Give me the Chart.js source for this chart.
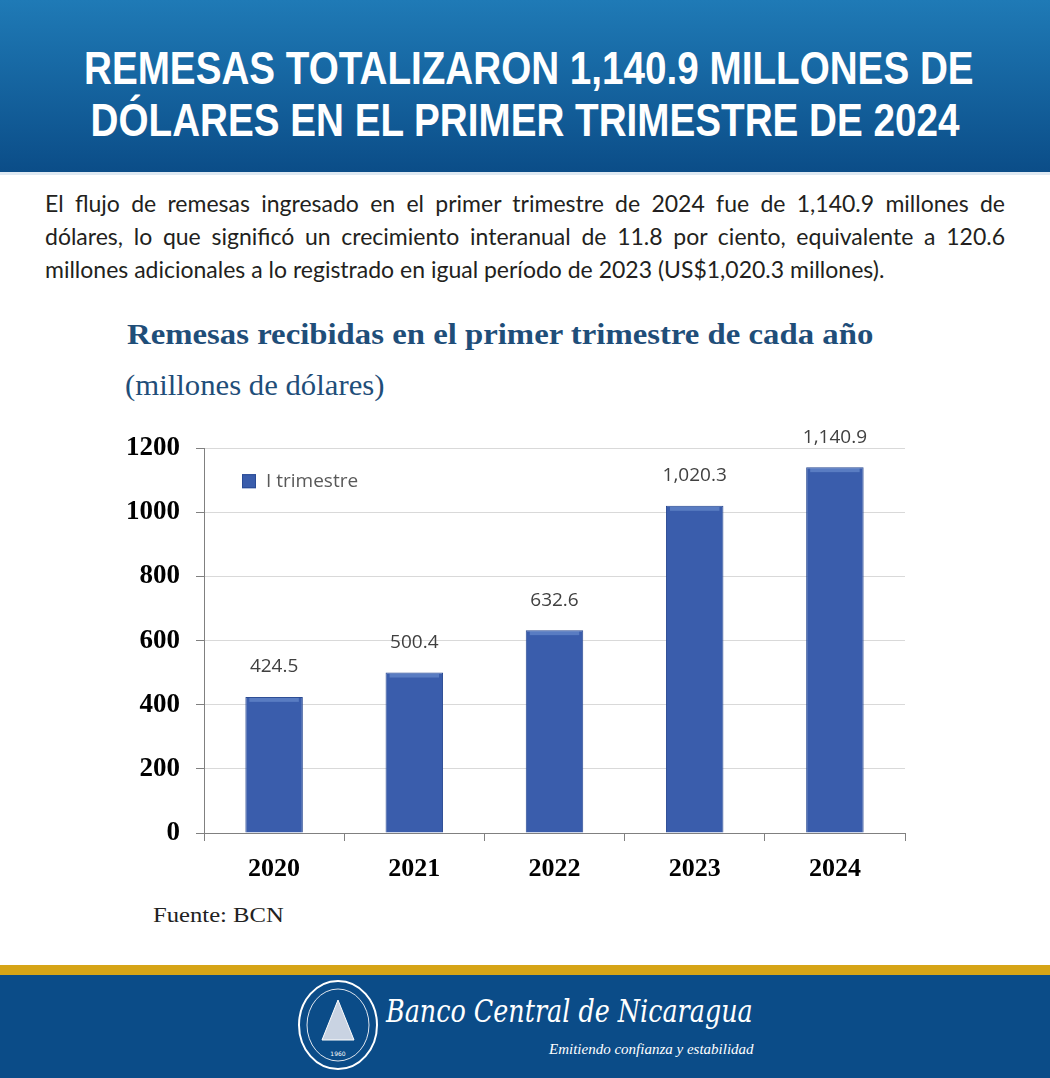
<!DOCTYPE html>
<html lang="es">
<head>
<meta charset="utf-8">
<title>Remesas primer trimestre</title>
<script src="https://cdn.jsdelivr.net/npm/chart.js@4.4.1/dist/chart.umd.min.js"></script>
<style>
    html, body { margin: 0; padding: 0; }
    body { width: 1050px; height: 1078px; position: relative; background: #fff; overflow: hidden; }
    .header {
        position: absolute; left: 0; top: 0; width: 1050px; height: 172px;
        background: linear-gradient(#1f7ab6, #0b4d88);
        border-bottom: 3px solid #dfe9f2;
        color: #fff; text-align: center;
        font-family: "Liberation Sans", sans-serif;
        font-weight: bold; font-size: 46px; line-height: 52px;
    }
    .header div {
        position: absolute; left: 0; width: 1050px; white-space: nowrap;
        transform: scaleX(0.84); transform-origin: 525px 0;
    }
    .intro {
        position: absolute; left: 45px; top: 187px; width: 960px;
        font-family: "Lato", "Open Sans", sans-serif; font-size: 23px; line-height: 33px;
        color: #231f20;
    }
    .intro .j { text-align: justify; text-align-last: justify; white-space: nowrap; }
    .ctitle {
        position: absolute; left: 127px; top: 318px; transform: scaleX(1.13); transform-origin: 0 0;
        font-family: "Liberation Serif", serif; font-weight: bold; font-size: 29px; color: #1f4e79;
        white-space: nowrap;
    }
    .csub {
        position: absolute; left: 125px; top: 369px; transform: scaleX(1.06); transform-origin: 0 0;
        font-family: "Liberation Serif", serif; font-size: 29px; color: #1f4e79; white-space: nowrap;
    }
    .chart-wrap { position: absolute; left: 100px; top: 416px; width: 830px; height: 474px; }
    .fuente {
        position: absolute; left: 153px; top: 902px; transform: scaleX(1.12); transform-origin: 0 0;
        font-family: "Liberation Serif", serif; font-size: 22px; color: #222; white-space: nowrap;
    }
    .gold { position: absolute; left: 0; top: 965px; width: 1050px; height: 10px; background: #d6a416; }
    .footer { position: absolute; left: 0; top: 975px; width: 1050px; height: 103px; background: #0b4c88; }
    .seal { position: absolute; left: 296px; top: 3px; }
    .bank {
        position: absolute; left: 386px; top: 18px; color: #fff; white-space: nowrap;
        font-family: "DejaVu Serif", serif; font-style: italic; font-size: 31px;
        transform: scaleX(0.82); transform-origin: 0 0;
    }
    .motto {
        position: absolute; left: 549px; top: 66px; color: #fff; white-space: nowrap;
        font-family: "Liberation Serif", serif; font-style: italic; font-size: 15px;
    }
</style>
</head>
<body>
<div class="header">
    <div style="top:42px">REMESAS TOTALIZARON 1,140.9 MILLONES DE</div>
    <div style="top:94px">DÓLARES EN EL PRIMER TRIMESTRE DE 2024</div>
</div>
<div class="intro">
    <div class="j">El flujo de remesas ingresado en el primer trimestre de 2024 fue de 1,140.9 millones de</div>
    <div class="j">dólares, lo que significó un crecimiento interanual de 11.8 por ciento, equivalente a 120.6</div>
    <div>millones adicionales a lo registrado en igual período de 2023 (US$1,020.3 millones).</div>
</div>
<div class="ctitle">Remesas recibidas en el primer trimestre de cada año</div>
<div class="csub">(millones de dólares)</div>
<div class="chart-wrap"><canvas id="remesasChart" width="830" height="474"></canvas></div>
<div class="fuente">Fuente: BCN</div>
<div class="gold"></div>
<div class="footer">
    <svg class="seal" width="84" height="94" viewBox="0 0 84 94">
        <ellipse cx="42" cy="47" rx="39" ry="44" fill="none" stroke="#fff" stroke-width="2"/>
        <ellipse cx="42" cy="47" rx="31" ry="36" fill="none" stroke="#dfe6ef" stroke-width="1"/>
        <polygon points="42,22 58,62 26,62" fill="#c9d3e2" stroke="#fff"/>
        <text x="42" y="78" fill="#fff" font-size="6" text-anchor="middle" font-family="DejaVu Sans">1960</text>
    </svg>
    <div class="bank">Banco Central de Nicaragua</div>
    <div class="motto">Emitiendo confianza y estabilidad</div>
</div>

<script>
(function () {
    'use strict';

    const years = ['2020', '2021', '2022', '2023', '2024'];
    const remesas = [424.5, 500.4, 632.6, 1020.3, 1140.9];
    const valueLabels = ['424.5', '500.4', '632.6', '1,020.3', '1,140.9'];
    const yTicks = [0, 200, 400, 600, 800, 1000, 1200];
    const seriesName = 'I trimestre';

    const baseBlue = '#3a5dac';

    function barFill(context) {
        const chart = context.chart;
        const el = context.element;
        if (!el || !chart.chartArea || !Number.isFinite(el.x) || !Number.isFinite(el.width)) {
            return baseBlue;
        }
        const half = el.width / 2;
        const g = chart.ctx.createLinearGradient(el.x - half, 0, el.x + half, 0);
        g.addColorStop(0, '#2a4b96');
        g.addColorStop(0.12, '#3a5eae');
        g.addColorStop(0.88, '#3a5eae');
        g.addColorStop(1, '#2a4b96');
        return g;
    }

    const valueLabelPlugin = {
        id: 'valueLabels',
        afterDatasetsDraw: function (chart) {
            const ctx = chart.ctx;
            const meta = chart.getDatasetMeta(0);
            ctx.save();
            ctx.font = '19px "Open Sans", sans-serif';
            ctx.textAlign = 'center';
            ctx.textBaseline = 'middle';
            meta.data.forEach(function (bar, i) {
                // soft bevel at the top of each bar
                ctx.fillStyle = 'rgba(120, 155, 215, 0.5)';
                ctx.fillRect(bar.x - bar.width / 2 + 4, bar.y + 1, bar.width - 8, 4);
                ctx.fillStyle = '#404040';
                ctx.fillText(valueLabels[i], bar.x, bar.y - 30);
            });
            ctx.restore();
        }
    };

    const legendPlugin = {
        id: 'innerLegend',
        afterDraw: function (chart) {
            const ctx = chart.ctx;
            const area = chart.chartArea;
            const x = area.left + 38;
            const y = area.top + 33;
            ctx.save();
            ctx.fillStyle = baseBlue;
            ctx.fillRect(x, y - 7, 14, 14);
            ctx.strokeStyle = '#2a4b96';
            ctx.strokeRect(x + 0.5, y - 6.5, 13, 13);
            ctx.font = '19px "Open Sans", sans-serif';
            ctx.fillStyle = '#595959';
            ctx.textBaseline = 'middle';
            ctx.fillText(chart.data.datasets[0].label, x + 24, y);
            ctx.restore();
        }
    };

    const ctx = document.getElementById('remesasChart');
    new Chart(ctx, {
        type: 'bar',
        data: {
            labels: years,
            datasets: [{
                label: seriesName,
                data: remesas,
                backgroundColor: barFill,
                borderColor: '#2a4a92',
                borderWidth: 1,
                categoryPercentage: 1,
                barPercentage: 0.41
            }]
        },
        options: {
            responsive: false,
            animation: false,
            layout: { padding: { top: 23, right: 25, left: 0, bottom: 0 } },
            plugins: { legend: { display: false }, tooltip: { enabled: false } },
            scales: {
                x: {
                    grid: {
                        drawOnChartArea: false,
                        drawTicks: true,
                        tickLength: 8,
                        color: '#808080'
                    },
                    border: { color: '#808080', width: 1 },
                    ticks: {
                        color: '#000',
                        padding: 13,
                        font: { family: '"Liberation Serif", serif', weight: 'bold', size: 26 }
                    },
                    afterFit: function (scale) { scale.height = 57; }
                },
                y: {
                    min: 0,
                    max: 1200,
                    afterBuildTicks: function (scale) {
                        scale.ticks = yTicks.map(function (v) { return { value: v }; });
                    },
                    grid: {
                        color: '#d9d9d9',
                        tickColor: '#808080',
                        tickLength: 8,
                        lineWidth: 1
                    },
                    border: { color: '#808080', width: 1 },
                    ticks: {
                        color: '#000',
                        padding: 16,
                        font: { family: '"Liberation Serif", serif', weight: 'bold', size: 27 },
                        callback: function (value) { return String(value); }
                    },
                    afterFit: function (scale) { scale.width = 104; }
                }
            }
        },
        plugins: [valueLabelPlugin, legendPlugin]
    });
})();
</script>
</body>
</html>
